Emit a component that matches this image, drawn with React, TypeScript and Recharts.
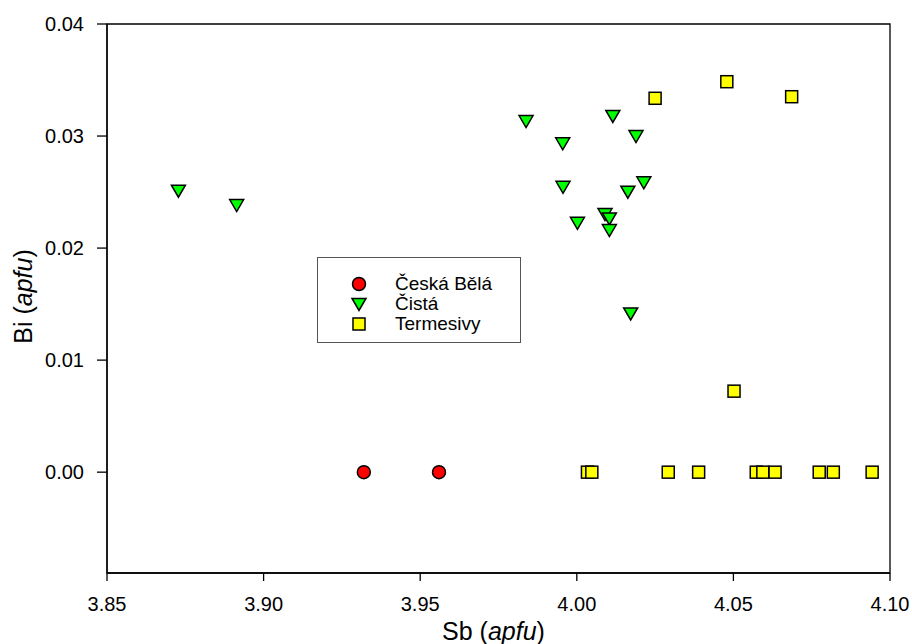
import { ScatterChart, Scatter, XAxis, YAxis, ReferenceArea } from 'recharts';

// Sb (apfu) vs Bi (apfu) by locality
const ceskaBelaSb = [3.932, 3.956];
const ceskaBelaBi = [0, 0];

const cistaSb = [3.8728, 3.8914, 3.9838, 3.9955, 4.0115, 4.0189, 3.9956, 4.0002, 4.009, 4.0104, 4.0104, 4.0163, 4.0214, 4.0172];
const cistaBi = [0.02512, 0.02384, 0.03134, 0.02935, 0.03179, 0.03, 0.02547, 0.02226, 0.02304, 0.02265, 0.02161, 0.02503, 0.02587, 0.01417];

const termesivySb = [4.025, 4.0479, 4.0686, 4.0502, 4.0034, 4.0048, 4.0292, 4.0389, 4.0573, 4.0594, 4.0633, 4.0774, 4.0819, 4.0943];
const termesivyBi = [0.03337, 0.03485, 0.03351, 0.00723, 0, 0, 0, 0, 0, 0, 0, 0, 0, 0];

const xTicks = [3.85, 3.9, 3.95, 4.0, 4.05, 4.1];
const yTicks = [0, 0.01, 0.02, 0.03, 0.04];

const zip = (xs: number[], ys: number[]) => xs.map((x, i) => ({ x, y: ys[i] }));

const ceskaBela = zip(ceskaBelaSb, ceskaBelaBi);
const cista = zip(cistaSb, cistaBi);
const termesivy = zip(termesivySb, termesivyBi);

const FONT = 'Arial, "Liberation Sans", sans-serif';

const Circle = ({ cx, cy }: any) => (
  <circle cx={cx} cy={cy} r={6.5} fill="#ff0000" stroke="#000" strokeWidth={1.5} />
);

const Triangle = ({ cx, cy }: any) => (
  <polygon
    points={`${cx - 7},${cy - 5.5} ${cx + 7},${cy - 5.5} ${cx},${cy + 6.5}`}
    fill="#00ff00"
    stroke="#000"
    strokeWidth={1.5}
  />
);

const Square = ({ cx, cy }: any) => (
  <rect x={cx - 6} y={cy - 6} width={12} height={12} fill="#ffff00" stroke="#000" strokeWidth={1.5} />
);

const legendItems = [
  { name: 'Česká Bělá', Shape: Circle },
  { name: 'Čistá', Shape: Triangle },
  { name: 'Termesivy', Shape: Square },
];

const ChartLegend = () => (
  <div
    style={{
      position: 'absolute',
      left: 317,
      top: 257,
      width: 204,
      height: 86,
      border: '1px solid #555',
      boxSizing: 'border-box',
      background: '#fff',
      paddingTop: 16,
      fontFamily: FONT,
      fontSize: 19,
      color: '#000',
    }}
  >
    {legendItems.map(({ name, Shape }) => (
      <div key={name} style={{ display: 'flex', alignItems: 'center', height: 20 }}>
        <svg width={70} height={20}>
          <Shape cx={41} cy={10} />
        </svg>
        <span style={{ marginLeft: 7 }}>{name}</span>
      </div>
    ))}
  </div>
);

const XTitle = ({ viewBox }: any) => (
  <text
    x={viewBox.x + viewBox.width / 2 - 5}
    y={viewBox.y + 67}
    textAnchor="middle"
    fontFamily={FONT}
    fontSize={25}
    fill="#000"
  >
    Sb (<tspan fontStyle="italic">apfu</tspan>)
  </text>
);

const YTitle = ({ viewBox }: any) => {
  const cx = 32;
  const cy = viewBox.y + viewBox.height / 2 - 2;
  return (
    <text
      x={cx}
      y={cy}
      transform={`rotate(-90 ${cx} ${cy})`}
      textAnchor="middle"
      fontFamily={FONT}
      fontSize={25}
      fill="#000"
    >
      Bi (<tspan fontStyle="italic">apfu</tspan>)
    </text>
  );
};

const tickStyle = { fill: '#000', fontSize: 20, fontFamily: FONT };

export default function App() {
  return (
    <div style={{ position: 'absolute', left: 0, top: 0, width: 912, height: 644, background: '#fff' }}>
      <ScatterChart width={912} height={644} margin={{ top: 24, right: 22, bottom: 0, left: 0 }}>
        <XAxis
          type="number"
          dataKey="x"
          domain={[3.85, 4.1]}
          ticks={xTicks}
          tickFormatter={(v: number) => v.toFixed(2)}
          allowDataOverflow
          height={71}
          tickSize={8}
          tickMargin={16}
          tick={tickStyle}
          fontSize={20}
          fontFamily={FONT}
          stroke="#000"
          strokeWidth={1.3}
          label={<XTitle />}
        />
        <YAxis
          type="number"
          dataKey="y"
          domain={[-0.009, 0.04]}
          ticks={yTicks}
          tickFormatter={(v: number) => v.toFixed(2)}
          allowDataOverflow
          width={107}
          tickSize={10}
          tickMargin={13}
          tick={tickStyle}
          fontSize={20}
          fontFamily={FONT}
          stroke="#000"
          strokeWidth={1.3}
          label={<YTitle />}
        />
        <ReferenceArea
          x1={3.85}
          x2={4.1}
          y1={-0.009}
          y2={0.04}
          fill="none"
          fillOpacity={0}
          stroke="#000"
          strokeWidth={1.3}
          strokeOpacity={1}
        />
        <Scatter name="Česká Bělá" data={ceskaBela} shape={<Circle />} isAnimationActive={false} />
        <Scatter name="Čistá" data={cista} shape={<Triangle />} isAnimationActive={false} />
        <Scatter name="Termesivy" data={termesivy} shape={<Square />} isAnimationActive={false} />
      </ScatterChart>
      <ChartLegend />
    </div>
  );
}
